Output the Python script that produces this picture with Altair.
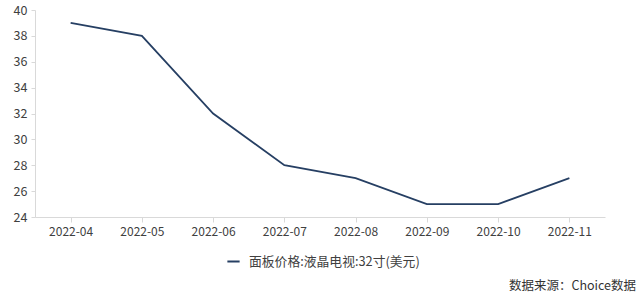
import altair as alt
import pandas as pd

months = ["2022-04", "2022-05", "2022-06", "2022-07", "2022-08", "2022-09", "2022-10", "2022-11"]
prices = [39, 38, 32, 28, 27, 25, 25, 27]
series_name = "面板价格:液晶电视:32寸(美元)"
source_text = "数据来源：Choice数据"

df = pd.DataFrame({"month": months, "price": prices, "series": [series_name] * len(months)})

FONT = "Noto Sans CJK SC"

chart = alt.Chart(df).mark_line(strokeWidth=1.8).encode(
    x=alt.X("month:N", sort=months, title=None,
            scale=alt.Scale(paddingInner=0, paddingOuter=0),
            axis=alt.Axis(labelAngle=0, labelFontSize=12, labelColor="#404040",
                          domainColor="#d9d9d9", tickColor="#d9d9d9", tickSize=5,
                          labelPadding=4, labelFont=FONT)),
    y=alt.Y("price:Q", title=None,
            scale=alt.Scale(domain=[24, 40], nice=False, zero=False),
            axis=alt.Axis(values=list(range(24, 41, 2)), grid=False, labelFontSize=12.5,
                          labelColor="#404040", domainColor="#d9d9d9", tickColor="#d9d9d9",
                          tickSize=4, labelPadding=4, labelFont=FONT)),
    color=alt.Color("series:N", scale=alt.Scale(range=["#263f63"]),
                    legend=alt.Legend(title=None, orient="none", legendX=191, legendY=244,
                                      symbolType="stroke", symbolStrokeWidth=2, symbolSize=150,
                                      labelFontSize=12.8, labelColor="#404040", labelFont=FONT,
                                      labelOffset=8, labelLimit=400)),
).properties(
    width=570, height=207,
    background="white",
    title=alt.TitleParams(source_text, orient="bottom", anchor="end", fontSize=12.5,
                          fontWeight="normal", color="#333333", font=FONT, offset=11, dx=31),
    autosize=alt.AutoSizeParams(type="none"),
    padding={"left": 35, "top": 10, "right": 35, "bottom": 78},
).configure_view(strokeWidth=0, stroke="transparent")

chart.save("out.html", embed_options={"renderer": "svg", "actions": False})
